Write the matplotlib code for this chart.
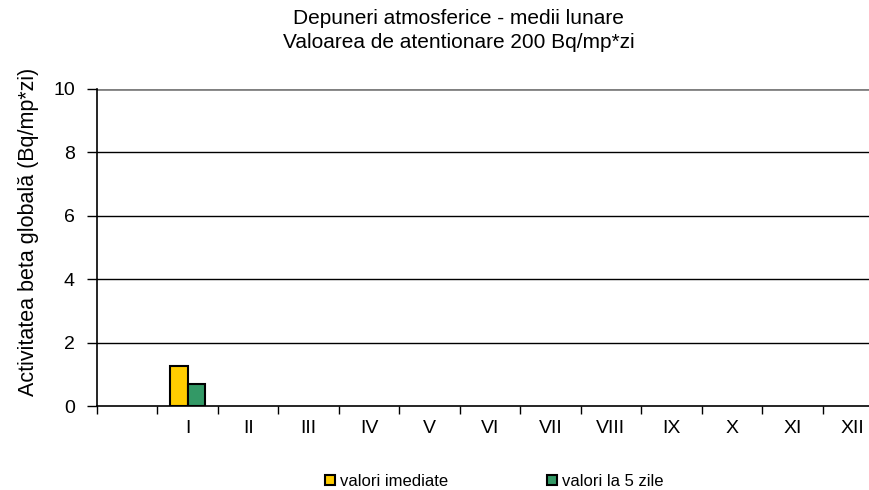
import numpy as np
import matplotlib.pyplot as plt

plt.rcParams['font.family'] = ['Liberation Sans', 'DejaVu Sans']

# categorii: prima este goala, apoi lunile I..XII
luni = ['', 'I', 'II', 'III', 'IV', 'V', 'VI', 'VII', 'VIII', 'IX', 'X', 'XI', 'XII']
valori_imediate = [np.nan, 1.25, np.nan, np.nan, np.nan, np.nan, np.nan,
                   np.nan, np.nan, np.nan, np.nan, np.nan, np.nan]
valori_5_zile = [np.nan, 0.68, np.nan, np.nan, np.nan, np.nan, np.nan,
                 np.nan, np.nan, np.nan, np.nan, np.nan, np.nan]

fig = plt.figure(figsize=(8.7, 4.9), dpi=100)
ax = fig.add_axes([0.1115, 0.1714, 0.9034, 0.647])

x = np.arange(len(luni))
w = 0.29
ax.bar(x - w / 2, valori_imediate, w, color='#FFCC00', edgecolor='black',
       linewidth=1.5, label='valori imediate', zorder=3)
ax.bar(x + w / 2, valori_5_zile, w, color='#339966', edgecolor='black',
       linewidth=1.5, label='valori la 5 zile', zorder=3)

ax.set_xlim(-0.5, len(luni) - 0.5)
ax.set_ylim(0, 10)
ax.set_yticks([0, 2, 4, 6, 8, 10])

# linii de grila
for y in [2, 4, 6, 8]:
    ax.axhline(y, color='black', linewidth=1, zorder=1)
ax.axhline(10, color='#808080', linewidth=2, zorder=1)

# taieturi la granita categoriilor, etichete la mijloc
ax.set_xticks(np.arange(len(luni) + 1) - 0.5)
ax.set_xticklabels([])
ax.set_xticks(x, minor=True)
ax.set_xticklabels(luni, minor=True, fontsize=14)
ax.tick_params(axis='x', which='minor', length=0, pad=10)
ax.tick_params(axis='x', which='major', length=6, width=1, direction='out')
ax.tick_params(axis='y', length=7, width=1, direction='out', labelsize=14, pad=9)

for s in ['top', 'right']:
    ax.spines[s].set_visible(False)
ax.spines['left'].set_linewidth(1.2)
ax.spines['bottom'].set_linewidth(1.2)
ax.spines['bottom'].set_color('black')

ax.set_ylabel('Activitatea beta globală (Bq/mp*zi)', fontsize=15.5)
ax.yaxis.set_label_coords(-0.074, 0.55)

fig.text(0.527, 0.937, 'Depuneri atmosferice - medii lunare\nValoarea de atentionare 200 Bq/mp*zi',
         fontsize=15, ha='center', va='center', linespacing=1.35)

fig.legend(loc='center', bbox_to_anchor=(0.568, 0.018), ncol=2, frameon=False,
           fontsize=12, handlelength=0.6, handleheight=0.6, handletextpad=0.3,
           columnspacing=5.9, borderpad=0)

fig.savefig('out.png', dpi=100)
